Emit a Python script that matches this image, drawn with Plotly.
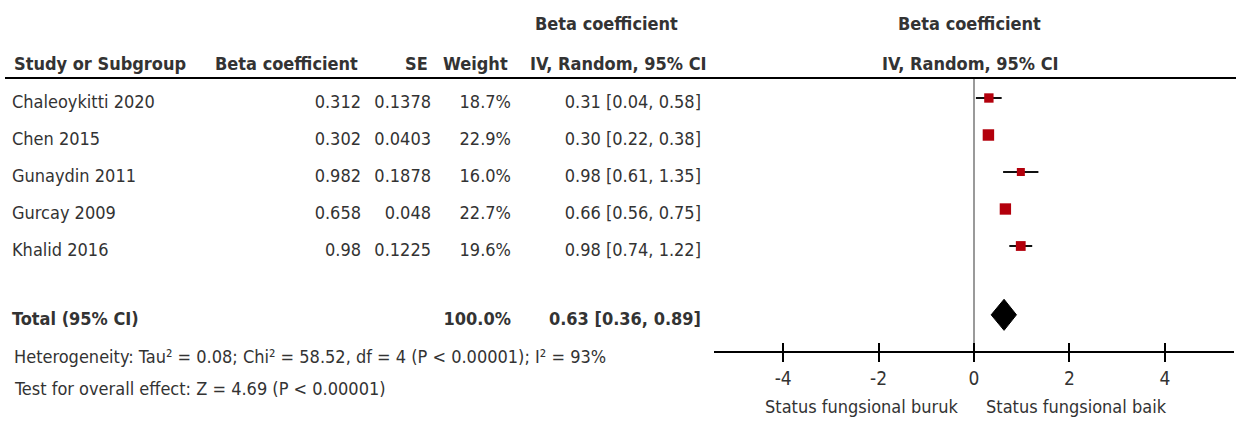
import plotly.graph_objects as go

# ---------------- data ----------------
studies = ["Chaleoykitti 2020", "Chen 2015", "Gunaydin 2011", "Gurcay 2009", "Khalid 2016"]
beta = [0.312, 0.302, 0.982, 0.658, 0.98]
se = ["0.1378", "0.0403", "0.1878", "0.048", "0.1225"]
beta_txt = ["0.312", "0.302", "0.982", "0.658", "0.98"]
weight = [18.7, 22.9, 16.0, 22.7, 19.6]
est = [0.31, 0.30, 0.98, 0.66, 0.98]
ci_lo = [0.04, 0.22, 0.61, 0.56, 0.74]
ci_hi = [0.58, 0.38, 1.35, 0.75, 1.22]
total_est, total_lo, total_hi = 0.63, 0.36, 0.89
total_weight = 100.0
tick_vals = [-4, -2, 0, 2, 4]
tick_text = ["-4", "-2", "0", "2", "4"]
heterogeneity = "Heterogeneity: Tau² = 0.08; Chi² = 58.52, df = 4 (P < 0.00001); I² = 93%"
overall = "Test for overall effect: Z = 4.69 (P < 0.00001)"
label_left = "Status fungsional buruk"
label_right = "Status fungsional baik"

# ---------------- layout helpers ----------------
W, H = 1238, 423
FONT = "DejaVu Sans Condensed, Liberation Sans Narrow, Arial Narrow, sans-serif"
TXT = "#333333"
FS = 18
rows = list(range(len(studies)))
ROW0, ROWH = 98, 37  # pixel of row 0, pixel per row
total_row = 5.86
TXT_OFF = 0.15       # text sits slightly below the marks


def py(p):
    return 1 - p / H


def r_of(p):
    return (p - ROW0) / ROWH


ci_txt = [f"{e:.2f} [{l:.2f}, {h:.2f}]" for e, l, h in zip(est, ci_lo, ci_hi)]
w_txt = [f"{w:.1f}%" for w in weight]
text_rows = [r + TXT_OFF for r in rows]
total_text_row = [total_row + TXT_OFF]

fig = go.Figure()


def col(xpos, texts, pos, yy=None):
    fig.add_trace(go.Scatter(
        x=[xpos] * len(texts), y=yy if yy is not None else text_rows, text=texts,
        mode="text", textposition=pos, xaxis="x2", yaxis="y",
        textfont=dict(family=FONT, size=FS, color=TXT), hoverinfo="skip", showlegend=False))


col(12, studies, "middle right")
col(361, beta_txt, "middle left")
col(431, se, "middle left")
col(511, w_txt, "middle left")
col(701, ci_txt, "middle left")
col(12, ["<b>Total (95% CI)</b>"], "middle right", yy=total_text_row)
col(511, [f"<b>{total_weight:.1f}%</b>"], "middle left", yy=total_text_row)
col(701, [f"<b>{total_est:.2f} [{total_lo:.2f}, {total_hi:.2f}]</b>"], "middle left", yy=total_text_row)

# CI lines (drawn first, underneath)
fig.add_trace(go.Scatter(
    x=beta, y=rows, mode="markers", xaxis="x", yaxis="y",
    marker=dict(size=1, opacity=0),
    error_x=dict(type="data", symmetric=False,
                 array=[h - b for h, b in zip(ci_hi, beta)],
                 arrayminus=[b - l for b, l in zip(beta, ci_lo)],
                 width=0, thickness=2, color="#111111"),
    hoverinfo="skip", showlegend=False))
# squares
fig.add_trace(go.Scatter(
    x=beta, y=rows, mode="markers", xaxis="x", yaxis="y",
    marker=dict(symbol="square", size=[w * 0.5 for w in weight], color="#B3000C",
                opacity=1, line=dict(width=0)),
    hoverinfo="skip", showlegend=False))

# diamond
hh = 0.42
fig.add_trace(go.Scatter(
    x=[total_lo, total_est, total_hi, total_est, total_lo],
    y=[total_row, total_row - hh, total_row, total_row + hh, total_row],
    mode="lines", fill="toself", fillcolor="black", line=dict(color="black", width=1),
    xaxis="x", yaxis="y", hoverinfo="skip", showlegend=False))

shapes = [
    dict(type="line", xref="paper", yref="paper", x0=5 / W, x1=1236 / W, y0=py(78), y1=py(78),
         line=dict(color="black", width=2)),
    dict(type="line", xref="x", yref="paper", x0=0, x1=0, y0=py(352), y1=py(78),
         line=dict(color="#9a9a9a", width=2), layer="below"),
]

ann = []


def add_ann(x, y, text, anchor="center", bold=False, size=FS):
    ann.append(dict(x=x / W, y=py(y), xref="paper", yref="paper", text=f"<b>{text}</b>" if bold else text,
                    showarrow=False, xanchor=anchor, yanchor="middle",
                    font=dict(family=FONT, size=size, color=TXT)))


add_ann(606, 24, "Beta coefficient", bold=True)
add_ann(969, 24, "Beta coefficient", bold=True)
add_ann(12, 63, "Study or Subgroup", "left", bold=True)
add_ann(360, 63, "Beta coefficient", "right", bold=True)
add_ann(430, 63, "SE", "right", bold=True)
add_ann(510, 63, "Weight", "right", bold=True)
add_ann(618, 63, "IV, Random, 95% CI", bold=True)
add_ann(970, 63, "IV, Random, 95% CI", bold=True)
add_ann(12, 356, heterogeneity, "left")
add_ann(12, 388, overall, "left")
add_ann(861, 406, label_left)
add_ann(1076, 406, label_right)

xd = [714 / W, 1234 / W]
fig.update_layout(
    width=W, height=H, margin=dict(l=0, r=0, t=0, b=0),
    paper_bgcolor="white", plot_bgcolor="rgba(0,0,0,0)",
    shapes=shapes, annotations=ann, hovermode=False,
    xaxis=dict(domain=xd, range=[-5.45, 5.45], anchor="free", position=py(352),
               showgrid=False, zeroline=False, showline=True, linecolor="black", linewidth=2,
               ticks="outside", ticklen=9, tickwidth=2, tickcolor="black",
               tickvals=tick_vals, ticktext=tick_text,
               tickfont=dict(family=FONT, size=FS + 1, color=TXT)),
    xaxis3=dict(domain=xd, range=[-5.45, 5.45], anchor="free", position=py(352),
                overlaying="x", showgrid=False, zeroline=False, showline=False,
                ticks="inside", ticklen=9, tickwidth=2, tickcolor="black",
                tickvals=tick_vals, showticklabels=False),
    xaxis2=dict(domain=[0, 1], range=[0, W], visible=False, anchor="y"),
    yaxis=dict(domain=[0, 1], range=[r_of(H), r_of(0)], visible=False),
)
fig.add_trace(go.Scatter(x=[0], y=[0], xaxis="x3", yaxis="y", mode="markers",
                         marker=dict(opacity=0), hoverinfo="skip", showlegend=False))

fig.write_html("out.html", config={"displayModeBar": False},
               post_script="document.body.style.margin='0px';")
